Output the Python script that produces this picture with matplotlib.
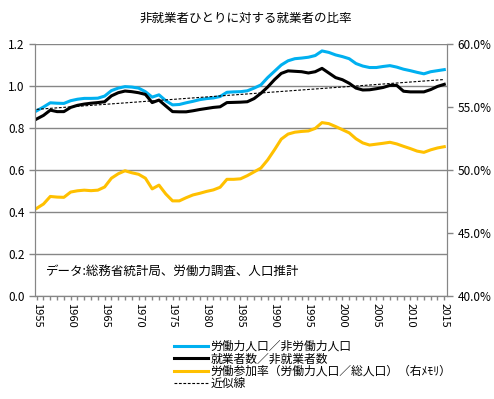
import matplotlib
matplotlib.use("Agg")
import matplotlib.pyplot as plt
import numpy as np
from matplotlib.ticker import FuncFormatter, MultipleLocator

plt.rcParams['font.family'] = ['Noto Sans CJK JP', 'DejaVu Sans']

years = np.arange(1955, 2016)

# 労働力人口／非労働力人口
labour_ratio = [0.882, 0.900, 0.920, 0.918, 0.917, 0.930, 0.937, 0.941, 0.941, 0.942,
                0.952, 0.978, 0.990, 0.997, 0.995, 0.990, 0.973, 0.947, 0.958, 0.930,
                0.910, 0.912, 0.920, 0.927, 0.935, 0.940, 0.943, 0.950, 0.970, 0.972,
                0.973, 0.977, 0.990, 1.005, 1.040, 1.070, 1.100, 1.120, 1.130, 1.133,
                1.137, 1.145, 1.167, 1.160, 1.148, 1.140, 1.130, 1.107, 1.095, 1.088,
                1.088, 1.093, 1.097, 1.090, 1.080, 1.073, 1.065, 1.058, 1.068, 1.073,
                1.078]

# 就業者数／非就業者数
employed_ratio = [0.843, 0.860, 0.885, 0.878, 0.878, 0.898, 0.908, 0.914, 0.918, 0.921,
                  0.925, 0.953, 0.968, 0.976, 0.973, 0.968, 0.960, 0.921, 0.933, 0.905,
                  0.878, 0.877, 0.877, 0.882, 0.888, 0.893, 0.898, 0.901, 0.921, 0.922,
                  0.923, 0.925, 0.940, 0.965, 0.995, 1.030, 1.060, 1.072, 1.070, 1.068,
                  1.062, 1.068, 1.084, 1.062, 1.040, 1.030, 1.013, 0.990, 0.981, 0.982,
                  0.987, 0.993, 1.003, 1.003, 0.975, 0.972, 0.972, 0.972, 0.983, 0.998,
                  1.008]

# 労働参加率 (%)
participation = [46.96, 47.30, 47.90, 47.85, 47.83, 48.25, 48.35, 48.40, 48.36, 48.40,
                 48.65, 49.35, 49.70, 49.94, 49.78, 49.66, 49.35, 48.50, 48.80, 48.10,
                 47.55, 47.55, 47.80, 48.02, 48.15, 48.30, 48.42, 48.63, 49.26, 49.26,
                 49.30, 49.55, 49.85, 50.15, 50.80, 51.60, 52.45, 52.85, 53.00, 53.06,
                 53.10, 53.30, 53.76, 53.68, 53.45, 53.20, 52.95, 52.48, 52.15, 51.98,
                 52.05, 52.12, 52.20, 52.07, 51.88, 51.70, 51.50, 51.40, 51.60, 51.75,
                 51.85]

labels = ['労働力人口／非労働力人口', '就業者数／非就業者数',
          '労働参加率（労働力人口／総人口）（右ﾒﾓﾘ）', '近似線']

grid_c = '#868686'

fig = plt.figure(figsize=(4.94, 3.99), dpi=100)
ax = fig.add_axes([35/494, 103/399, 412/494, 252/399])
ax2 = ax.twinx()

# trend line (linear fit of employed ratio)
coef = np.polyfit(years, employed_ratio, 1)
trend = np.polyval(coef, years)

l1, = ax.plot(years, labour_ratio, color='#00B0F0', lw=2.2, zorder=4)
l2, = ax.plot(years, employed_ratio, color='black', lw=2.2, zorder=4)
l4, = ax.plot(years, trend, color='black', lw=0.8, ls=(0, (2.5, 1.5)), zorder=5)
l3, = ax2.plot(years, participation, color='#FFC000', lw=2.2)

ax.set_xlim(1954.75, 2015.4)
ax.set_ylim(0, 1.2)
ax2.set_ylim(40, 60)

ax.yaxis.set_major_locator(MultipleLocator(0.2))
ax.yaxis.set_major_formatter(FuncFormatter(lambda v, p: f'{v:.1f}'))
ax2.yaxis.set_major_locator(MultipleLocator(5))
ax2.yaxis.set_major_formatter(FuncFormatter(lambda v, p: f'{v:.1f}%'))

ax.set_xticks(years)
ax.set_xticklabels([str(y) if y % 5 == 0 else '' for y in years], rotation=270)
ax.grid(axis='y', color=grid_c, lw=1)
ax.set_axisbelow(True)

for a in (ax, ax2):
    for s in a.spines.values():
        s.set_color(grid_c)
    a.spines['top'].set_visible(False)
    a.tick_params(colors=grid_c, labelcolor='black', labelsize=8.5, length=4, width=1)
ax.tick_params(axis='x', length=3, pad=2, labelsize=8)

ax.text(1956.4, 0.1, 'データ:総務省統計局、労働力調査、人口推計', fontsize=9)

fig.text(0.497, 0.955, '非就業者ひとりに対する就業者の比率', ha='center', va='center', fontsize=9)

fig.legend([l1, l2, l3, l4], labels, loc='upper left', bbox_to_anchor=(174/494, 1 - 340/399),
           frameon=False, fontsize=8.5, handlelength=2.9, handletextpad=0.2,
           labelspacing=-0.05, borderpad=0, borderaxespad=0)

fig.savefig('out.png', dpi=100)
